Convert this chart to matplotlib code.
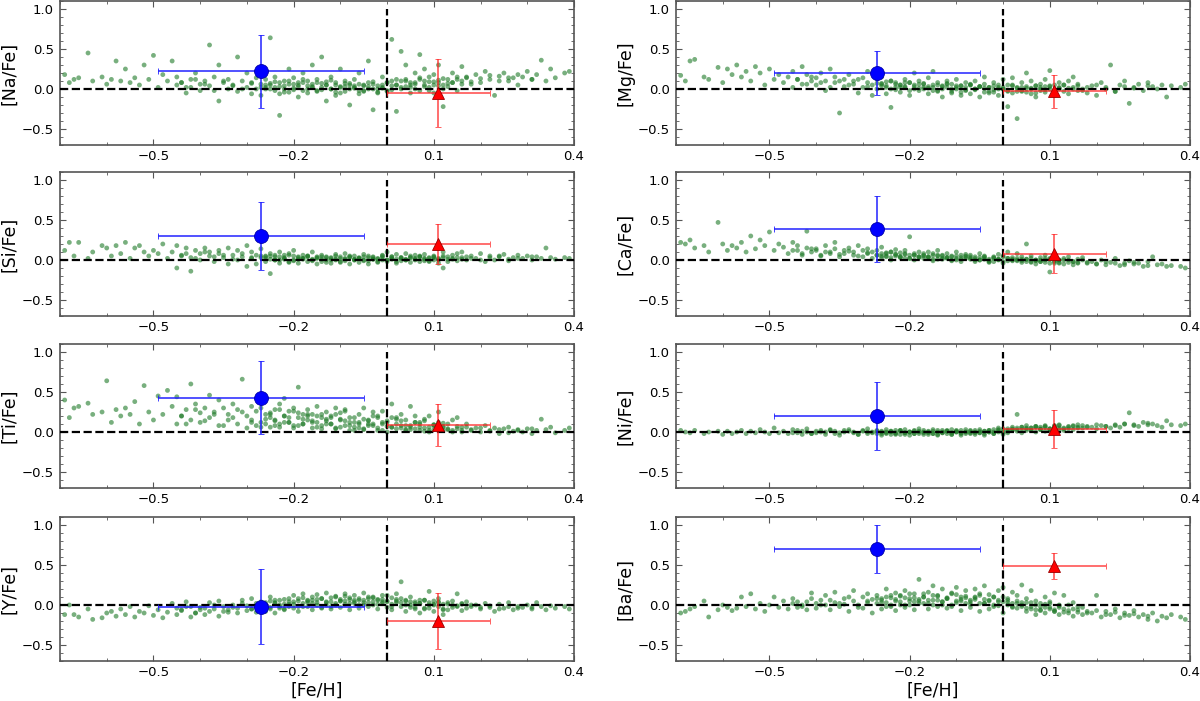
import matplotlib
matplotlib.use("Agg")
import matplotlib.pyplot as plt
from matplotlib.ticker import MultipleLocator, FixedLocator
import numpy as np

# Shared [Fe/H] of field stars (first set)
feh = [
    -0.69, -0.68, -0.67, -0.66, -0.64, -0.63, -0.61, -0.60, -0.59, -0.58,
    -0.57, -0.56, -0.55, -0.54, -0.53, -0.52, -0.51, -0.50, -0.49, -0.48,
    -0.47, -0.46, -0.45, -0.45, -0.44, -0.43, -0.42, -0.42, -0.41, -0.40,
    -0.40, -0.39, -0.38, -0.38, -0.37, -0.36, -0.36, -0.35, -0.34, -0.34,
    -0.33, -0.32, -0.32, -0.31, -0.30, -0.30, -0.29, -0.29, -0.28, -0.28,
    -0.27, -0.27, -0.26, -0.26, -0.25, -0.25, -0.24, -0.24, -0.23, -0.23,
    -0.22, -0.22, -0.21, -0.21, -0.20, -0.20, -0.19, -0.19, -0.18, -0.18,
    -0.17, -0.17, -0.16, -0.16, -0.15, -0.15, -0.14, -0.14, -0.13, -0.13,
    -0.12, -0.12, -0.11, -0.11, -0.10, -0.10, -0.09, -0.09, -0.08, -0.08,
    -0.07, -0.07, -0.06, -0.06, -0.05, -0.05, -0.04, -0.04, -0.03, -0.03,
    -0.02, -0.02, -0.01, -0.01, 0.00, 0.00, 0.01, 0.01, 0.02, 0.02,
    0.03, 0.03, 0.04, 0.04, 0.05, 0.05, 0.06, 0.06, 0.07, 0.07,
    0.08, 0.08, 0.09, 0.09, 0.10, 0.10, 0.11, 0.11, 0.12, 0.12,
    0.13, 0.13, 0.14, 0.14, 0.15, 0.15, 0.16, 0.16, 0.17, 0.18,
    0.19, 0.20, 0.21, 0.22, 0.23, 0.24, 0.25, 0.26, 0.27, 0.28,
    0.29, 0.30, 0.31, 0.32, 0.33, 0.34, 0.35, 0.36, 0.38, 0.39,
]
# Second set of field stars (dense central region)
feh2 = [
    -0.44, -0.43, -0.41, -0.39, -0.37, -0.35, -0.33, -0.31, -0.29, -0.27,
    -0.26, -0.25, -0.24, -0.23, -0.22, -0.21, -0.20, -0.19, -0.18, -0.17,
    -0.16, -0.15, -0.14, -0.13, -0.12, -0.11, -0.10, -0.09, -0.08, -0.07,
    -0.06, -0.05, -0.04, -0.03, -0.02, -0.01, 0.00, 0.01, 0.02, 0.03,
    0.04, 0.05, 0.06, 0.07, 0.08, 0.09, 0.10, 0.11, 0.12, 0.13,
    -0.26, -0.25, -0.24, -0.23, -0.22, -0.21, -0.20, -0.19, -0.18, -0.17,
    -0.16, -0.15, -0.14, -0.13, -0.12, -0.11, -0.10, -0.09, -0.08, -0.07,
    -0.06, -0.05, -0.04, -0.03, -0.02, -0.01, 0.00, 0.01, 0.02, 0.03,
    0.04, 0.05, 0.06, 0.07, 0.08, 0.09, 0.10, 0.11, 0.12, 0.14,
    0.15, 0.16, 0.17, 0.18, 0.20, 0.22, 0.24, 0.26, 0.28, 0.31,
]

na_fe = [
    0.18, 0.08, 0.12, 0.14, 0.45, 0.10, 0.15, 0.06, 0.12, 0.35,
    0.10, 0.25, 0.08, 0.14, 0.05, 0.30, 0.12, 0.42, 0.02, 0.18,
    0.10, 0.35, 0.05, 0.15, 0.08, -0.05, 0.12, 0.02, 0.20, 0.06,
    -0.02, 0.10, 0.55, 0.04, 0.15, 0.30, -0.15, 0.08, 0.00, 0.12,
    0.05, 0.40, -0.03, 0.10, 0.02, 0.20, 0.08, -0.06, 0.14, 0.00,
    0.06, -0.08, 0.12, 0.02, 0.64, 0.05, -0.02, 0.15, 0.08, -0.33,
    0.00, 0.10, 0.25, -0.04, 0.06, 0.14, -0.10, 0.03, 0.20, 0.08,
    -0.05, 0.10, 0.02, 0.30, 0.12, -0.02, 0.07, 0.40, -0.15, 0.05,
    0.00, 0.15, -0.08, 0.08, 0.03, 0.25, -0.03, 0.10, -0.20, 0.05,
    0.02, 0.12, -0.06, 0.20, 0.05, -0.02, 0.35, 0.08, -0.26, 0.00,
    0.04, -0.05, 0.15, 0.01, 0.08, -0.03, 0.62, 0.10, -0.28, 0.05,
    0.47, 0.00, 0.12, 0.30, 0.05, -0.05, 0.20, 0.08, 0.43, -0.02,
    0.10, 0.25, 0.02, 0.15, -0.05, 0.18, 0.08, 0.30, 0.05, -0.22,
    0.12, 0.03, 0.20, 0.08, 0.15, -0.02, 0.28, 0.10, 0.14, 0.06,
    0.18, 0.08, 0.22, 0.12, -0.08, 0.16, 0.20, 0.10, 0.14, 0.05,
    0.15, 0.22, 0.12, 0.18, 0.36, 0.10, 0.25, 0.14, 0.20, 0.22,
]
na_fe2 = [
    0.08, 0.02, 0.12, 0.06, -0.02, 0.10, 0.04, 0.00, 0.07, 0.02,
    0.05, 0.00, 0.09, 0.03, -0.04, 0.06, 0.01, 0.08, -0.02, 0.04,
    0.06, -0.03, 0.02, 0.09, 0.00, 0.05, -0.05, 0.03, 0.07, 0.01,
    -0.02, 0.04, 0.00, 0.06, -0.04, 0.02, 0.08, -0.01, 0.05, 0.10,
    0.03, 0.08, 0.00, 0.12, 0.05, -0.02, 0.09, 0.04, 0.13, 0.07,
    0.00, 0.07, 0.02, -0.06, 0.04, 0.10, -0.01, 0.05, 0.12, 0.00,
    0.03, 0.08, -0.01, 0.05, 0.11, -0.04, 0.02, 0.07, 0.00, 0.04,
    0.06, -0.03, 0.03, 0.09, 0.00, 0.05, -0.02, 0.04, 0.12, 0.02,
    0.10, 0.02, 0.06, 0.14, 0.03, 0.09, 0.05, 0.11, 0.00, 0.08,
    0.12, 0.06, 0.15, 0.09, 0.13, 0.17, 0.10, 0.14, 0.18, 0.12,
]

mg_fe = [
    0.17, 0.10, 0.35, 0.37, 0.15, 0.12, 0.27, 0.08, 0.25, 0.18,
    0.30, 0.15, 0.22, 0.10, 0.28, 0.20, 0.05, 0.25, 0.12, 0.18,
    0.08, 0.15, 0.22, 0.02, 0.12, 0.28, 0.06, 0.18, 0.10, 0.14,
    0.05, 0.20, 0.10, -0.02, 0.25, 0.08, 0.15, -0.30, 0.12, 0.03,
    0.18, 0.06, 0.10, -0.05, 0.14, 0.02, 0.08, 0.22, -0.08, 0.05,
    0.12, 0.00, 0.06, 0.15, -0.06, 0.04, 0.10, -0.23, 0.02, 0.08,
    0.05, -0.04, 0.12, 0.02, 0.08, -0.08, 0.20, 0.03, -0.02, 0.10,
    0.00, 0.06, -0.06, 0.14, 0.02, 0.22, -0.03, 0.08, 0.04, -0.10,
    0.02, 0.10, -0.05, 0.06, 0.00, 0.12, -0.08, 0.04, 0.08, -0.02,
    0.05, -0.06, 0.10, 0.00, 0.03, -0.10, 0.06, 0.15, -0.03, 0.02,
    -0.04, 0.08, 0.02, -0.08, 0.12, 0.00, -0.22, 0.05, 0.14, -0.05,
    0.02, -0.37, 0.08, -0.03, 0.20, 0.01, -0.06, 0.10, 0.04, -0.10,
    0.00, 0.06, -0.04, 0.12, 0.03, 0.23, -0.08, 0.05, 0.00, 0.08,
    -0.03, 0.05, 0.10, -0.06, 0.02, 0.15, -0.02, 0.06, 0.00, -0.05,
    0.04, -0.08, 0.08, 0.02, 0.30, -0.03, 0.05, 0.10, -0.18, 0.02,
    0.06, -0.02, 0.08, 0.03, 0.00, 0.05, -0.10, 0.04, 0.02, 0.06,
]
mg_fe2 = [
    0.12, 0.06, 0.15, 0.08, 0.02, 0.10, 0.05, 0.12, 0.03, 0.07,
    0.04, 0.09, 0.00, 0.06, 0.02, 0.08, -0.02, 0.05, 0.01, 0.07,
    0.03, -0.02, 0.05, 0.00, 0.06, -0.03, 0.02, 0.04, -0.01, 0.05,
    0.00, 0.03, -0.04, 0.02, -0.01, 0.05, 0.00, -0.03, 0.04, 0.01,
    -0.02, 0.03, 0.00, -0.05, 0.02, -0.01, 0.04, -0.03, 0.01, 0.05,
    0.07, 0.02, 0.10, -0.01, 0.05, 0.03, 0.08, 0.00, 0.06, 0.02,
    0.01, 0.05, -0.02, 0.03, 0.07, 0.00, 0.04, -0.04, 0.02, 0.06,
    -0.01, 0.03, 0.01, -0.05, 0.04, 0.00, 0.02, -0.02, 0.05, -0.03,
    0.02, -0.04, 0.01, 0.04, -0.02, 0.03, 0.00, -0.05, 0.02, 0.01,
    0.00, 0.04, -0.02, 0.02, 0.05, 0.00, -0.03, 0.03, 0.01, 0.04,
]

si_fe = [
    0.12, 0.22, 0.05, 0.22, 0.02, 0.10, 0.18, 0.15, 0.05, 0.18,
    0.08, 0.22, 0.02, 0.15, 0.18, 0.10, 0.05, 0.12, 0.08, 0.20,
    0.02, 0.10, 0.18, -0.10, 0.06, 0.15, 0.03, -0.14, 0.12, 0.08,
    0.00, 0.15, 0.05, 0.10, -0.02, 0.12, 0.08, 0.03, 0.15, -0.05,
    0.06, 0.00, 0.12, 0.04, -0.08, 0.18, 0.02, 0.10, -0.05, 0.06,
    0.03, 0.14, -0.02, 0.05, -0.17, 0.08, 0.00, 0.04, 0.10, -0.04,
    0.02, 0.06, -0.03, 0.08, 0.00, 0.12, 0.04, -0.04, 0.06, 0.01,
    -0.02, 0.05, 0.00, 0.10, 0.03, -0.05, 0.06, 0.01, -0.03, 0.04,
    0.02, -0.04, 0.07, 0.00, 0.04, -0.02, 0.08, 0.01, -0.05, 0.03,
    0.00, 0.05, -0.03, 0.02, 0.07, -0.01, 0.03, -0.05, 0.04, 0.01,
    0.02, -0.03, 0.06, 0.00, 0.10, -0.02, 0.04, 0.01, -0.04, 0.07,
    0.03, -0.01, 0.08, 0.00, 0.05, -0.03, 0.02, 0.06, -0.02, 0.04,
    0.01, 0.07, -0.02, 0.03, 0.00, 0.05, -0.04, 0.02, 0.10, -0.10,
    0.04, -0.02, 0.06, 0.01, 0.08, -0.01, 0.03, 0.10, 0.00, 0.05,
    0.02, 0.08, -0.02, 0.05, 0.00, 0.04, 0.07, -0.01, 0.03, 0.06,
    0.02, 0.05, 0.00, 0.04, 0.02, 0.15, 0.03, 0.01, 0.03, 0.02,
]
si_fe2 = [
    0.05, 0.08, 0.02, 0.10, 0.04, 0.06, 0.01, 0.08, 0.03, 0.05,
    0.02, 0.05, 0.00, 0.04, 0.01, 0.06, -0.01, 0.03, 0.02, 0.05,
    0.01, 0.04, -0.02, 0.03, 0.00, 0.05, 0.02, -0.01, 0.04, 0.01,
    0.03, 0.00, 0.05, 0.01, -0.02, 0.03, 0.00, 0.04, 0.01, 0.02,
    0.00, 0.03, 0.01, 0.05, -0.01, 0.02, 0.04, 0.00, 0.03, 0.01,
    0.04, 0.01, 0.06, 0.00, 0.03, -0.02, 0.05, 0.01, 0.02, 0.04,
    -0.01, 0.02, 0.04, 0.00, 0.03, 0.01, -0.03, 0.02, 0.05, 0.00,
    0.02, 0.04, -0.01, 0.03, 0.01, 0.05, 0.00, 0.02, -0.02, 0.03,
    0.01, 0.03, 0.00, 0.04, 0.02, -0.01, 0.03, 0.01, 0.05, 0.02,
    0.03, 0.01, 0.04, 0.02, 0.00, 0.03, 0.05, 0.01, 0.02, 0.04,
]

ca_fe = [
    0.22, 0.20, 0.25, 0.15, 0.18, 0.10, 0.47, 0.20, 0.12, 0.18,
    0.15, 0.22, 0.10, 0.30, 0.14, 0.25, 0.18, 0.35, 0.12, 0.20,
    0.16, 0.08, 0.22, 0.12, 0.18, 0.06, 0.15, 0.36, 0.10, 0.14,
    0.12, 0.05, 0.18, 0.10, 0.08, 0.22, 0.14, 0.04, 0.12, 0.08,
    0.15, 0.06, 0.10, 0.18, 0.04, 0.12, 0.08, 0.14, 0.02, 0.10,
    0.06, 0.12, 0.03, 0.16, 0.08, 0.05, 0.10, 0.00, 0.13, 0.07,
    0.04, 0.09, 0.12, 0.02, 0.29, 0.06, 0.08, 0.00, 0.10, 0.04,
    0.06, 0.02, 0.10, 0.04, -0.01, 0.08, 0.05, 0.12, 0.01, 0.06,
    0.03, 0.08, -0.01, 0.05, 0.10, 0.02, 0.06, -0.02, 0.04, 0.07,
    0.02, 0.06, -0.02, 0.04, 0.08, 0.00, 0.03, 0.05, -0.03, 0.01,
    0.04, -0.02, 0.07, 0.01, -0.04, 0.05, 0.02, 0.10, -0.01, 0.03,
    0.00, 0.08, -0.03, 0.04, 0.20, 0.01, -0.02, 0.05, 0.00, -0.05,
    0.03, -0.02, 0.06, 0.00, -0.15, 0.02, -0.04, 0.04, 0.00, -0.03,
    0.02, -0.05, 0.00, 0.04, -0.02, -0.06, 0.01, -0.03, 0.03, -0.04,
    -0.02, -0.05, 0.00, -0.06, -0.03, 0.02, -0.07, -0.04, -0.01, -0.05,
    -0.04, -0.08, -0.02, 0.04, -0.06, -0.05, -0.08, -0.07, -0.08, -0.10,
]
ca_fe2 = [
    0.12, 0.08, 0.14, 0.06, 0.10, 0.07, 0.11, 0.05, 0.09, 0.06,
    0.08, 0.04, 0.10, 0.05, 0.03, 0.07, 0.02, 0.06, 0.04, 0.08,
    0.03, 0.06, 0.01, 0.05, 0.02, 0.04, 0.00, 0.03, 0.05, 0.01,
    0.02, 0.00, 0.04, -0.01, 0.03, 0.01, -0.02, 0.02, 0.00, -0.01,
    0.01, -0.02, 0.02, -0.01, 0.00, -0.03, 0.01, -0.02, -0.04, 0.00,
    0.05, 0.09, 0.03, 0.07, 0.04, 0.08, 0.02, 0.06, 0.03, 0.05,
    0.04, 0.01, 0.06, 0.02, 0.03, 0.00, 0.05, 0.01, 0.02, 0.04,
    0.00, 0.03, 0.01, -0.02, 0.02, 0.00, 0.04, -0.01, 0.01, 0.02,
    -0.01, 0.01, -0.03, 0.00, -0.02, 0.02, -0.04, -0.01, 0.00, -0.03,
    -0.02, -0.04, 0.00, -0.03, -0.05, -0.02, -0.04, -0.06, -0.03, -0.07,
]

ti_fe = [
    0.40, 0.18, 0.30, 0.32, 0.36, 0.22, 0.25, 0.64, 0.12, 0.28,
    0.20, 0.30, 0.22, 0.38, 0.10, 0.58, 0.25, 0.15, 0.45, 0.22,
    0.52, 0.32, 0.10, 0.44, 0.20, 0.28, 0.60, 0.15, 0.35, 0.24,
    0.12, 0.30, 0.46, 0.18, 0.25, 0.40, 0.08, 0.30, 0.22, 0.15,
    0.35, 0.10, 0.28, 0.66, 0.20, 0.05, 0.32, 0.15, 0.26, 0.08,
    0.30, 0.12, 0.22, 0.40, 0.18, 0.06, 0.28, 0.15, 0.35, 0.10,
    0.20, 0.42, 0.12, 0.26, 0.08, 0.30, 0.18, 0.56, 0.22, 0.10,
    0.15, 0.28, 0.05, 0.22, 0.32, 0.12, 0.18, 0.08, 0.25, 0.14,
    0.10, 0.20, 0.30, 0.05, 0.16, 0.24, 0.08, 0.28, 0.12, 0.02,
    0.18, 0.06, 0.22, 0.12, 0.30, 0.03, 0.15, 0.08, 0.25, 0.10,
    0.05, 0.20, 0.10, 0.26, 0.00, 0.14, 0.35, 0.06, 0.18, 0.10,
    0.08, 0.22, 0.03, 0.15, 0.32, 0.06, 0.12, 0.20, 0.02, 0.10,
    0.05, 0.14, 0.00, 0.20, 0.08, 0.03, 0.12, 0.25, 0.06, 0.02,
    0.10, 0.04, 0.15, 0.00, 0.07, 0.18, 0.02, 0.06, 0.10, 0.03,
    0.05, 0.00, 0.08, 0.02, 0.05, -0.02, 0.04, 0.06, 0.01, 0.03,
    0.00, 0.04, -0.02, 0.02, 0.16, 0.03, 0.06, -0.01, 0.02, 0.05,
]
ti_fe2 = [
    0.20, 0.10, 0.28, 0.14, 0.22, 0.08, 0.18, 0.25, 0.12, 0.06,
    0.16, 0.22, 0.08, 0.28, 0.12, 0.18, 0.05, 0.24, 0.10, 0.20,
    0.14, 0.06, 0.22, 0.10, 0.18, 0.04, 0.15, 0.26, 0.08, 0.12,
    0.05, 0.16, 0.10, 0.20, 0.02, 0.12, 0.07, 0.18, 0.04, 0.14,
    0.08, 0.03, 0.12, 0.06, 0.16, 0.02, 0.09, 0.05, 0.11, 0.03,
    0.10, 0.24, 0.14, 0.06, 0.20, 0.12, 0.26, 0.08, 0.16, 0.22,
    0.12, 0.20, 0.04, 0.16, 0.10, 0.22, 0.06, 0.14, 0.18, 0.02,
    0.10, 0.04, 0.14, 0.08, 0.18, 0.02, 0.12, 0.06, 0.16, 0.05,
    0.02, 0.08, 0.04, 0.12, 0.01, 0.06, 0.09, 0.03, 0.07, 0.02,
    0.04, 0.00, 0.06, 0.02, 0.05, 0.01, 0.03, -0.01, 0.02, 0.04,
]

ni_fe = [
    0.02, 0.00, -0.01, 0.02, -0.02, 0.00, 0.01, -0.03, 0.01, -0.02,
    0.00, 0.02, -0.02, 0.01, -0.01, 0.03, 0.00, -0.02, 0.05, -0.01,
    0.01, -0.02, 0.03, -0.01, 0.02, -0.03, 0.00, 0.04, -0.02, 0.01,
    -0.01, 0.02, -0.03, 0.00, 0.03, -0.02, 0.01, -0.04, 0.02, 0.00,
    0.03, -0.01, 0.00, -0.03, 0.02, 0.01, -0.02, 0.04, -0.01, 0.00,
    -0.02, 0.02, 0.00, -0.04, 0.03, -0.01, 0.01, -0.03, 0.02, -0.02,
    0.01, -0.03, 0.03, -0.01, 0.00, -0.04, 0.02, -0.02, 0.04, 0.00,
    -0.01, 0.02, -0.03, 0.01, -0.02, 0.03, 0.00, -0.04, 0.02, -0.01,
    0.01, -0.02, 0.03, -0.03, 0.00, 0.02, -0.01, -0.04, 0.03, 0.00,
    -0.02, 0.02, 0.00, -0.03, 0.03, -0.01, 0.01, -0.04, 0.02, 0.00,
    0.03, -0.02, 0.05, 0.00, -0.03, 0.04, 0.01, -0.01, 0.06, 0.02,
    0.22, 0.03, 0.06, -0.01, 0.04, 0.08, 0.02, 0.05, 0.00, 0.07,
    0.03, 0.06, 0.01, 0.08, 0.04, 0.02, 0.07, 0.05, 0.03, 0.09,
    0.05, 0.02, 0.07, 0.04, 0.08, 0.03, 0.06, 0.09, 0.05, 0.07,
    0.06, 0.04, 0.08, 0.07, 0.05, 0.09, 0.06, 0.10, 0.24, 0.08,
    0.07, 0.12, 0.09, 0.10, 0.08, 0.06, 0.14, 0.09, 0.08, 0.10,
]
ni_fe2 = [
    -0.01, 0.01, -0.02, 0.00, 0.02, -0.01, 0.01, -0.03, 0.00, 0.01,
    -0.02, 0.00, 0.01, -0.03, 0.02, -0.01, 0.00, -0.02, 0.01, -0.03,
    0.00, -0.02, 0.02, -0.01, 0.01, -0.03, 0.00, 0.02, -0.02, 0.01,
    -0.01, 0.01, -0.02, 0.02, 0.00, 0.03, -0.01, 0.02, 0.04, 0.01,
    0.03, 0.05, 0.02, 0.06, 0.04, 0.07, 0.03, 0.05, 0.08, 0.04,
    0.01, -0.02, 0.00, -0.01, 0.02, -0.03, 0.00, 0.01, -0.02, 0.00,
    -0.01, 0.01, -0.03, 0.00, 0.02, -0.01, 0.01, -0.02, 0.00, -0.01,
    0.02, -0.01, 0.01, 0.00, -0.02, 0.02, 0.01, 0.04, 0.03, 0.05,
    0.06, 0.02, 0.05, 0.07, 0.03, 0.06, 0.04, 0.08, 0.05, 0.06,
    0.07, 0.05, 0.08, 0.06, 0.09, 0.07, 0.08, 0.10, 0.09, 0.11,
]

y_fe = [
    -0.12, 0.00, -0.12, -0.15, -0.05, -0.18, -0.16, -0.10, -0.08, -0.14,
    -0.05, -0.12, -0.02, -0.15, -0.08, -0.10, -0.01, -0.13, -0.06, -0.16,
    -0.09, 0.02, -0.12, -0.04, -0.07, 0.04, -0.15, -0.02, -0.10, -0.06,
    -0.03, -0.12, 0.03, -0.08, -0.05, -0.14, 0.05, -0.02, -0.09, -0.06,
    0.00, -0.10, -0.04, 0.06, -0.07, -0.01, 0.08, -0.05, -0.09, 0.02,
    -0.03, 0.04, -0.08, 0.00, 0.10, -0.05, 0.03, -0.10, 0.06, -0.02,
    0.01, -0.06, 0.08, -0.02, 0.12, -0.04, 0.05, -0.08, 0.02, 0.14,
    -0.02, 0.06, 0.10, -0.06, 0.03, 0.13, -0.04, 0.08, 0.00, 0.15,
    0.04, -0.05, 0.11, 0.02, 0.07, -0.03, 0.14, 0.05, -0.06, 0.09,
    0.02, 0.12, -0.04, 0.06, 0.15, 0.00, 0.08, -0.02, 0.10, 0.04,
    -0.05, 0.07, 0.02, 0.12, -0.03, 0.05, 0.09, -0.06, 0.03, 0.14,
    0.29, -0.02, 0.06, -0.08, 0.10, 0.00, -0.05, 0.04, -0.10, 0.02,
    0.06, -0.04, 0.17, 0.00, -0.08, 0.05, -0.02, 0.08, -0.12, 0.01,
    0.03, -0.06, 0.05, -0.03, 0.14, -0.01, 0.02, -0.07, 0.04, -0.02,
    0.00, -0.05, 0.02, -0.03, -0.08, 0.01, -0.04, 0.03, -0.06, -0.02,
    -0.03, 0.00, -0.05, 0.03, -0.02, -0.06, -0.01, -0.04, -0.02, -0.05,
]
y_fe2 = [
    -0.06, -0.02, -0.10, -0.04, 0.00, -0.08, -0.03, 0.02, -0.05, 0.00,
    0.03, -0.03, 0.06, 0.00, -0.05, 0.04, 0.01, 0.08, -0.02, 0.05,
    0.02, 0.07, -0.03, 0.04, 0.09, 0.00, 0.05, 0.11, 0.02, 0.06,
    0.08, 0.03, 0.10, 0.00, 0.06, 0.04, 0.12, 0.01, 0.07, 0.03,
    0.05, -0.03, 0.02, 0.06, -0.05, 0.03, 0.00, 0.04, -0.06, 0.01,
    -0.01, 0.05, 0.02, -0.04, 0.07, 0.01, 0.04, -0.02, 0.09, 0.03,
    0.06, 0.00, 0.08, 0.03, -0.02, 0.10, 0.05, 0.01, 0.07, 0.04,
    0.00, 0.06, 0.03, 0.09, 0.01, 0.07, 0.04, -0.02, 0.05, 0.08,
    0.00, 0.04, -0.03, 0.02, 0.06, -0.04, 0.01, 0.03, -0.05, 0.00,
    -0.02, 0.01, -0.04, 0.00, -0.03, -0.01, -0.05, -0.02, -0.04, -0.03,
]

ba_fe = [
    -0.10, -0.08, -0.05, -0.02, 0.05, -0.15, -0.06, 0.00, -0.03, -0.07,
    -0.04, 0.10, -0.02, 0.14, -0.05, 0.02, -0.08, 0.00, 0.10, -0.03,
    0.05, -0.05, 0.02, 0.08, -0.03, 0.00, 0.04, -0.06, 0.15, 0.02,
    -0.04, 0.06, 0.00, 0.12, -0.06, 0.03, 0.16, -0.02, 0.08, 0.01,
    -0.08, 0.05, 0.18, 0.00, 0.10, -0.04, 0.03, 0.14, -0.10, 0.07,
    0.02, 0.12, -0.05, 0.06, 0.20, -0.02, 0.09, 0.00, 0.15, -0.07,
    0.04, 0.11, -0.03, 0.18, 0.00, 0.08, -0.06, 0.14, 0.05, 0.32,
    0.02, 0.10, -0.05, 0.16, 0.06, 0.24, -0.02, 0.12, 0.04, 0.20,
    -0.04, 0.08, 0.14, 0.00, 0.22, 0.05, -0.07, 0.10, 0.18, 0.02,
    0.06, -0.03, 0.20, 0.09, -0.08, 0.14, 0.02, 0.24, 0.05, -0.05,
    0.10, -0.02, 0.18, 0.04, -0.10, 0.22, 0.06, 0.00, 0.16, 0.02,
    0.12, -0.04, 0.25, 0.03, -0.08, 0.08, 0.18, -0.02, 0.05, -0.12,
    0.02, -0.06, 0.10, -0.10, 0.04, -0.03, 0.15, -0.08, 0.00, -0.12,
    0.12, -0.05, 0.00, -0.10, 0.03, -0.14, -0.06, -0.02, -0.12, -0.08,
    -0.10, 0.12, -0.15, -0.08, -0.12, -0.05, -0.16, -0.10, -0.13, -0.07,
    -0.15, -0.12, -0.18, -0.10, -0.20, -0.14, -0.16, -0.12, -0.15, -0.18,
]
ba_fe2 = [
    0.04, -0.02, 0.08, 0.00, 0.06, 0.02, 0.10, -0.03, 0.05, 0.08,
    0.03, 0.10, -0.02, 0.07, 0.12, 0.00, 0.05, 0.09, 0.02, 0.14,
    0.06, 0.00, 0.11, 0.04, 0.08, -0.02, 0.13, 0.05, 0.09, 0.01,
    0.07, 0.12, 0.02, 0.06, 0.10, -0.01, 0.04, 0.08, -0.03, 0.02,
    -0.02, 0.03, -0.05, 0.00, -0.07, -0.03, 0.02, -0.06, -0.01, -0.09,
    0.08, 0.03, 0.12, 0.05, 0.00, 0.09, 0.14, 0.04, 0.07, 0.10,
    0.02, 0.12, 0.06, 0.00, 0.09, 0.15, 0.03, 0.07, 0.11, 0.04,
    0.10, 0.02, 0.07, 0.13, 0.00, 0.06, 0.10, 0.03, -0.02, 0.05,
    0.00, -0.04, 0.03, -0.06, -0.02, 0.01, -0.05, -0.08, -0.03, -0.07,
    -0.05, -0.09, -0.03, -0.10, -0.07, -0.12, -0.09, -0.13, -0.11, -0.14,
]

labels = ["[Na/Fe]", "[Mg/Fe]", "[Si/Fe]", "[Ca/Fe]",
          "[Ti/Fe]", "[Ni/Fe]", "[Y/Fe]", "[Ba/Fe]"]
field = [na_fe, mg_fe, si_fe, ca_fe, ti_fe, ni_fe, y_fe, ba_fe]
field2 = [na_fe2, mg_fe2, si_fe2, ca_fe2, ti_fe2, ni_fe2, y_fe2, ba_fe2]

# Cluster mean (blue circle) and target (red triangle)
blue_feh, blue_feh_err = -0.27, 0.22
blue_y = [0.22, 0.20, 0.30, 0.39, 0.43, 0.20, -0.02, 0.70]
blue_yerr = [0.46, 0.275, 0.42, 0.41, 0.46, 0.43, 0.465, 0.30]
red_feh, red_feh_err = 0.11, 0.11
red_y = [-0.05, -0.03, 0.20, 0.08, 0.09, 0.04, -0.20, 0.49]
red_yerr = [0.42, 0.21, 0.245, 0.245, 0.26, 0.24, 0.35, 0.165]

xticks = [-0.5, -0.2, 0.1, 0.4]
xtick_labels = ["\u22120.5", "\u22120.2", "0.1", "0.4"]
yticks = [-0.5, 0.0, 0.5, 1.0]
ytick_labels = ["\u22120.5", "0.0", "0.5", "1.0"]

fig = plt.figure(figsize=(12, 7.01), dpi=100)
lefts = [60 / 1200, 676 / 1200]
width = 514 / 1200
tops_px = [1, 172, 344, 517]
h_px = 144
green = "#1f7a28"

for i in range(8):
    r, c = divmod(i, 2)
    bottom = 1 - (tops_px[r] + h_px) / 701
    ax = fig.add_axes([lefts[c], bottom, width, h_px / 701])
    ax.scatter(np.concatenate([feh, feh2]),
               np.concatenate([field[i], field2[i]]),
               s=12, color=green, alpha=0.6, edgecolors="none", zorder=2)
    ax.axhline(0.0, color="k", ls="--", lw=1.6, zorder=3)
    ax.vlines(0.0, -0.7, 1.0, color="k", ls="--", lw=1.6, zorder=3)
    ax.errorbar(blue_feh, blue_y[i], xerr=blue_feh_err, yerr=blue_yerr[i],
                fmt="o", color="#0000ff", ms=10, mec="#0000aa", mew=0.6,
                ecolor="#2222ff", elinewidth=1.1, capsize=2, capthick=1,
                zorder=5)
    ax.errorbar(red_feh, red_y[i], xerr=red_feh_err, yerr=red_yerr[i],
                fmt="^", color="#ff0000", ms=8, mec="#990000", mew=0.6,
                ecolor=(1, 0.15, 0.15, 0.85), elinewidth=1.1, capsize=2,
                capthick=1, zorder=5)
    ax.set_xlim(-0.7, 0.4)
    ax.set_ylim(-0.7, 1.1)
    ax.xaxis.set_major_locator(FixedLocator(xticks))
    ax.set_xticklabels(xtick_labels)
    ax.xaxis.set_minor_locator(MultipleLocator(0.1))
    ax.yaxis.set_major_locator(FixedLocator(yticks))
    ax.set_yticklabels(ytick_labels)
    ax.yaxis.set_minor_locator(MultipleLocator(0.1))
    ax.tick_params(which="both", direction="in", top=True, right=True,
                   color="#555555", labelsize=9.5)
    ax.tick_params(axis="x", which="major", pad=3.5)
    ax.tick_params(axis="y", which="major", pad=4.5)
    ax.tick_params(which="major", length=4.5, width=0.8)
    ax.tick_params(which="minor", length=2.5, width=0.6)
    for s in ax.spines.values():
        s.set_color("#555555")
        s.set_linewidth(1.2)
    ax.set_ylabel(labels[i], fontsize=12.5, labelpad=2.5)
    if r == 3:
        ax.set_xlabel("[Fe/H]", fontsize=12.5, labelpad=2)

fig.savefig("out.png", dpi=100)
